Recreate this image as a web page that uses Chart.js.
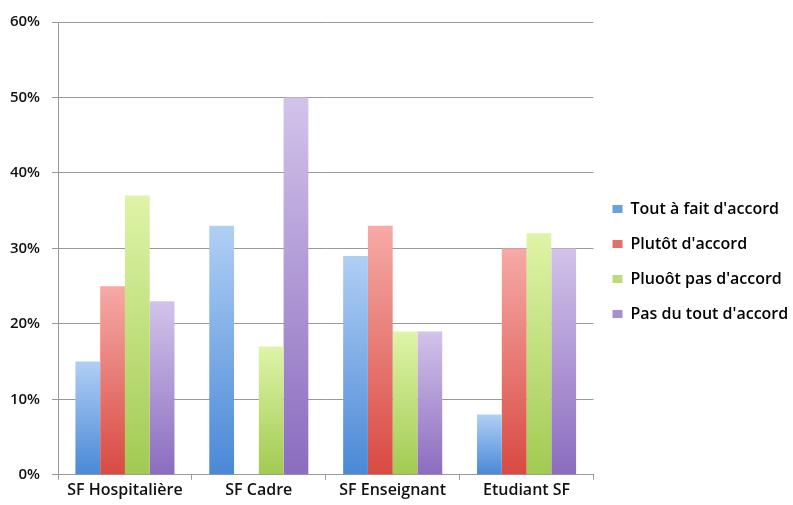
<!DOCTYPE html>
<html><head><meta charset="utf-8">
<script src="https://cdn.jsdelivr.net/npm/chart.js@4/dist/chart.umd.min.js"></script>
<style>html,body{margin:0;padding:0;background:#fff}#wrap{width:793px;height:505px}</style>
</head><body><div id="wrap"><canvas id="c" width="793" height="505"></canvas></div>
<script>
const categories = ["SF Hospitalière", "SF Cadre", "SF Enseignant", "Etudiant SF"];
const seriesNames = ["Tout à fait d'accord", "Plutôt d'accord", "Pluoôt pas d'accord", "Pas du tout d'accord"];
const toutAFait = [15, 33, 29, 8];
const plutot = [25, 0, 33, 30];
const plutotPas = [37, 17, 19, 32];
const pasDuTout = [23, 50, 19, 30];
const yTicks = [0, 10, 20, 30, 40, 50, 60];

const colorsTop = ["#b0cff5", "#f6aaa6", "#def4a8", "#d2c3ea"];
const colorsBot = ["#4a88d6", "#d84a42", "#a2ca52", "#8b6cbf"];
const legendColors = ["#6a9fe0", "#e4706a", "#bbdc7c", "#a68fd0"];

function grad(i){
  return function(ctx){
    const chart = ctx.chart;
    const ys = chart.scales && chart.scales.y;
    if(!chart.chartArea || !ys || ctx.type !== 'data') return legendColors[i];
    const v = ctx.raw || 0;
    const top = ys.getPixelForValue(v), bot = ys.getPixelForValue(0);
    if (!(bot > top)) return legendColors[i];
    const g = chart.ctx.createLinearGradient(0, top, 0, bot);
    g.addColorStop(0, colorsTop[i]);
    g.addColorStop(1, colorsBot[i]);
    return g;
  };
}
const allData = [toutAFait, plutot, plutotPas, pasDuTout];
const fam = "'Open Sans', 'DejaVu Sans', sans-serif";
new Chart(document.getElementById('c'), {
  type: 'bar',
  data: {
    labels: categories,
    datasets: allData.map((d,i)=>({label: seriesNames[i], data: d, backgroundColor: grad(i), borderWidth: 0}))
  },
  options: {
    responsive: false,
    animation: false,
    devicePixelRatio: 1,
    layout: {padding: {left: 1, top: 22, right: 2, bottom: 4}},
    datasets: {bar: {categoryPercentage: 0.74, barPercentage: 1.0}},
    plugins: {
      legend: {
        position: 'right',
        labels: {
          boxWidth: 10, boxHeight: 8, padding: 19, color: '#111',
          font: {family: fam, size: 16, weight: '600'},
          generateLabels: (chart) => seriesNames.map((n,i)=>({text: n, fillStyle: legendColors[i], strokeStyle: legendColors[i], lineWidth: 0, datasetIndex: i, hidden: false}))
        }
      },
      tooltip: {enabled: false}
    },
    scales: {
      x: {
        grid: {display: true, drawOnChartArea: false, drawTicks: true, tickLength: 5, color: '#999', offset: true},
        border: {color: '#999', width: 1},
        ticks: {color: '#111', font: {family: fam, size: 16, weight: '600'}, padding: 1}
      },
      y: {
        min: 0, max: 60,
        afterBuildTicks: (s) => { s.ticks = yTicks.map(v=>({value: v})); },
        afterFit: (s) => { s.width = 57; },
        grid: {color: '#999', tickLength: 6, drawTicks: true},
        border: {color: '#999', width: 1},
        ticks: {color: '#111', font: {family: fam, size: 15, weight: '600'}, padding: 12, callback: v => v + '%'}
      }
    }
  }
});
</script></body></html>
